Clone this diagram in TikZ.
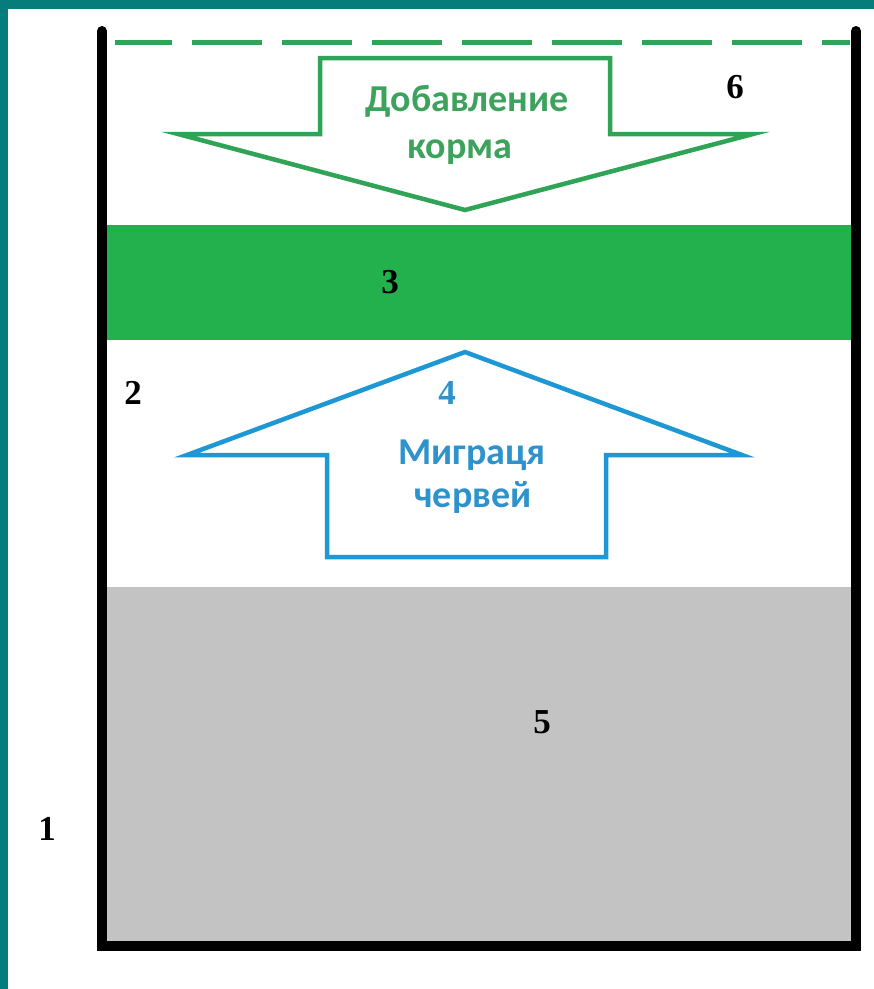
\documentclass[tikz,border=0pt]{standalone}
\usepackage{fontspec}
\setmainfont{Liberation Serif}
\newfontfamily\calib{Carlito}
\usepackage{xcolor}
\definecolor{frameteal}{HTML}{077D7B}
\definecolor{feedgreen}{HTML}{22B14C}
\definecolor{arrowgreen}{HTML}{2FA356}
\definecolor{textgreen}{HTML}{3DA25C}
\definecolor{arrowblue}{HTML}{1E98D4}
\definecolor{textblue}{HTML}{2E93CC}
\definecolor{soilgrey}{HTML}{C3C3C3}

\begin{document}
\begin{tikzpicture}[x=1pt, y=-1pt,
            num/.style={font=\bfseries\fontsize{35}{35}\selectfont, inner sep=0pt},
            lbl/.style={font=\calib\bfseries\fontsize{38}{38}\selectfont, inner sep=0pt, anchor=base},
            wall/.style={line width=10pt, line cap=round, line join=miter},
            outline/.style={line width=4.5pt, line join=miter}
            ]

            % Background and layers
            \useasboundingbox (0,0) rectangle (874,989);
            \fill[frameteal] (0,0) rectangle (874,989);
            \fill[white] (8,9) rectangle (874,989);
            \fill[feedgreen] (102,225) rectangle (856,340);
            \fill[soilgrey] (102,587) rectangle (856,946);
            \draw[arrowgreen, line width=5pt, dash pattern=on 70pt off 20pt, dash phase=13pt] (115,42) -- (850,42);
            \draw[wall] (102,31) -- (102,946) -- (856,946) -- (856,31);

            % Arrows
            \draw[outline, arrowgreen] (320,58) -- (610,58) -- (610,134) -- (753,134) -- (465,210) -- (178,134) -- (320,134) -- cycle;
            \draw[outline, arrowblue] (465,352) -- (742,455) -- (606,455) -- (606,557) -- (327,557) -- (327,455) -- (187,455) -- cycle;

            % Labels
            \node[lbl, text=textgreen] (feed1) at (467,111) {Добавление};
            \node[lbl, text=textgreen] (feed2) at (460,158) {корма};
            \node[lbl, text=textblue] (migr1) at (472,464) {Миграця};
            \node[lbl, text=textblue] (migr2) at (473,507) {червей};
            \node[num, text=textblue] (n4) at (447,393) {4};
            \node[num] (n1) at (47,829) {1};
            \node[num] (n2) at (133,393) {2};
            \node[num] (n3) at (390,282) {3};
            \node[num] (n5) at (542,722) {5};
            \node[num] (n6) at (735,87) {6};
        \end{tikzpicture}
\end{document}
